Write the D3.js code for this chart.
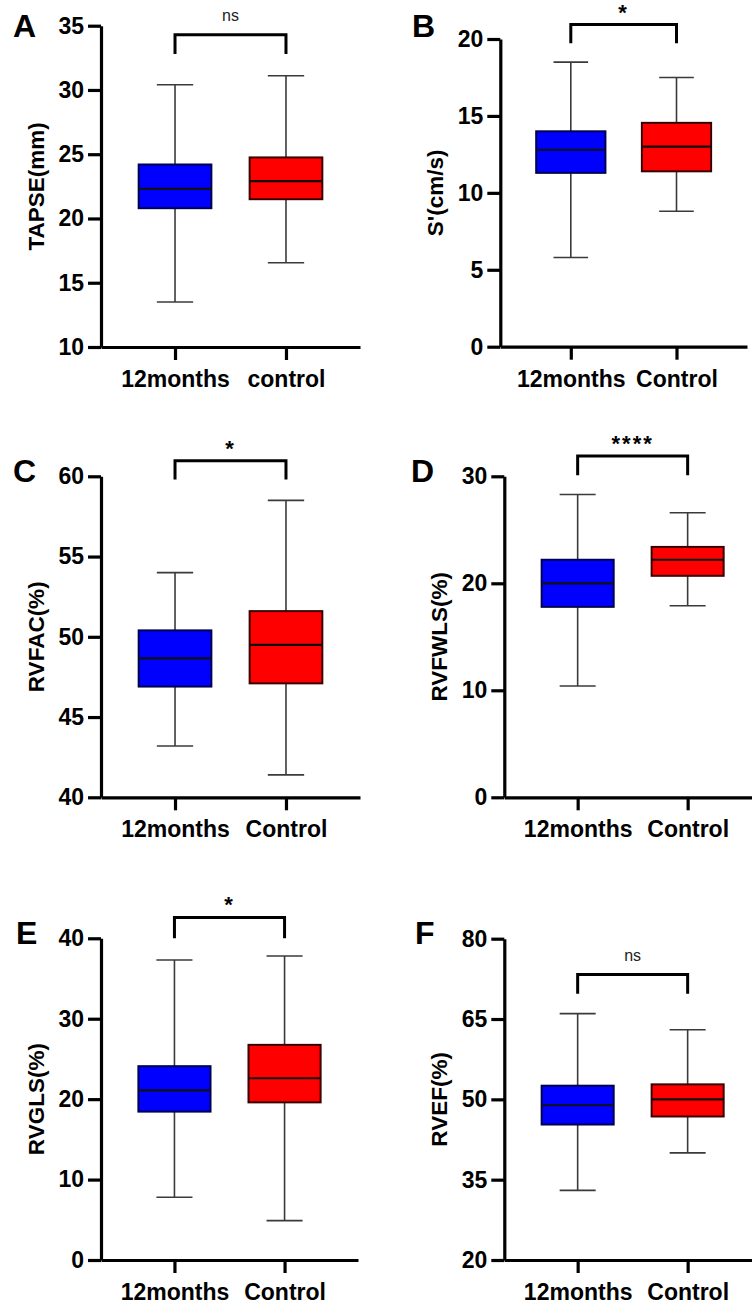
<!DOCTYPE html>
<html>
<head>
<meta charset="utf-8">
<script src="https://cdn.jsdelivr.net/npm/d3@7"></script>
<style>
  html, body { margin: 0; padding: 0; background: #fff; }
  svg { display: block; }
  text { font-family: "Liberation Sans", Arial, sans-serif; }
</style>
</head>
<body>
<svg id="chart" width="752" height="1307"></svg>
<script>
// ---------- data ----------
const panelLetters = ["A", "B", "C", "D", "E", "F"];
const yLabels = ["TAPSE(mm)", "S'(cm/s)", "RVFAC(%)", "RVFWLS(%)", "RVGLS(%)", "RVEF(%)"];
const categoryLabels = [
  ["12months", "control"],
  ["12months", "Control"],
  ["12months", "Control"],
  ["12months", "Control"],
  ["12months", "Control"],
  ["12months", "Control"]
];
const yTicks = [
  [10, 15, 20, 25, 30, 35],
  [0, 5, 10, 15, 20],
  [40, 45, 50, 55, 60],
  [0, 10, 20, 30],
  [0, 10, 20, 30, 40],
  [20, 35, 50, 65, 80]
];
// 12months group
const min12 = [13.5, 5.8, 43.2, 10.4, 7.8, 33.0];
const q1_12 = [20.8, 11.3, 46.9, 17.8, 18.45, 45.3];
const med12 = [22.3, 12.8, 48.65, 20.0, 21.1, 48.9];
const q3_12 = [24.2, 14.0, 50.4, 22.2, 24.1, 52.55];
const max12 = [30.4, 18.5, 54.0, 28.3, 37.3, 66.0];
// Control group
const minCtl = [16.55, 8.8, 41.4, 17.9, 4.9, 40.0];
const q1Ctl = [21.5, 11.4, 47.1, 20.7, 19.6, 46.8];
const medCtl = [22.9, 13.0, 49.5, 22.2, 22.6, 50.0];
const q3Ctl = [24.75, 14.55, 51.6, 23.4, 26.75, 52.8];
const maxCtl = [31.1, 17.5, 58.5, 26.6, 37.8, 63.0];
// significance brackets
const sigLabels = ["ns", "*", "*", "****", "*", "ns"];
const bracketTop = [34.3, 20.94, 60.97, 31.9, 42.6, 73.3];
const bracketLeg = [32.8, 19.73, 59.8, 30.1, 40.0, 69.7];

// ---------- layout (positions only) ----------
const layout = [
  { x0: 101,   x1: 360, yTop: 25.7,  yBot: 347,   lx: 13,  ly: 37 },
  { x0: 500.3, x1: 747, yTop: 39,    yBot: 346.7, lx: 412, ly: 37 },
  { x0: 101,   x1: 360, yTop: 476.3, yBot: 797.3, lx: 13,  ly: 482 },
  { x0: 504.3, x1: 761, yTop: 476.3, yBot: 797.3, lx: 411, ly: 482 },
  { x0: 101,   x1: 358, yTop: 938.3, yBot: 1260,  lx: 16,  ly: 944 },
  { x0: 504.3, x1: 761, yTop: 938.7, yBot: 1260,  lx: 415, ly: 944 }
];
const fills = ["#0000ff", "#ff0000"];
const strokes = ["#000050", "#3a0000"];

const svg = d3.select("#chart");

panelLetters.forEach((letter, i) => {
  const L = layout[i];
  const ticks = yTicks[i];
  const y = d3.scaleLinear().domain([ticks[0], ticks[ticks.length - 1]]).range([L.yBot, L.yTop]);
  const x = d3.scalePoint().domain(categoryLabels[i]).range([L.x0, L.x1]).padding(0.667);
  const step = x.step();
  const boxW = step * 0.655;
  const g = svg.append("g");

  const groups = [
    { cat: categoryLabels[i][0], min: min12[i], q1: q1_12[i], med: med12[i], q3: q3_12[i], max: max12[i], k: 0 },
    { cat: categoryLabels[i][1], min: minCtl[i], q1: q1Ctl[i], med: medCtl[i], q3: q3Ctl[i], max: maxCtl[i], k: 1 }
  ];

  groups.forEach(d => {
    const cx = x(d.cat);
    g.append("line").attr("x1", cx).attr("x2", cx).attr("y1", y(d.max)).attr("y2", y(d.min))
      .attr("stroke", "#3a3a3a").attr("stroke-width", 1.6);
    [d.min, d.max].forEach(v => {
      g.append("line").attr("x1", cx - boxW / 4).attr("x2", cx + boxW / 4).attr("y1", y(v)).attr("y2", y(v))
        .attr("stroke", "#3a3a3a").attr("stroke-width", 1.6);
    });
    g.append("rect").attr("x", cx - boxW / 2).attr("width", boxW)
      .attr("y", y(d.q3)).attr("height", y(d.q1) - y(d.q3))
      .attr("fill", fills[d.k]).attr("stroke", strokes[d.k]).attr("stroke-width", 2);
    g.append("line").attr("x1", cx - boxW / 2).attr("x2", cx + boxW / 2).attr("y1", y(d.med)).attr("y2", y(d.med))
      .attr("stroke", "#111").attr("stroke-width", 2.2);
  });

  // y axis
  const ya = g.append("g").attr("transform", `translate(${L.x0},0)`)
    .call(d3.axisLeft(y).tickValues(ticks).tickSize(13).tickSizeOuter(0).tickPadding(4));
  ya.select(".domain").attr("stroke", "#000").attr("stroke-width", 3.2);
  ya.selectAll(".tick line").attr("stroke", "#000").attr("stroke-width", 3.2);
  ya.selectAll(".tick text").attr("fill", "#000").style("font-size", "23px").style("font-weight", "bold")
    .style("font-family", "'Liberation Sans', Arial, sans-serif");

  // x axis
  const xa = g.append("g").attr("transform", `translate(0,${L.yBot})`)
    .call(d3.axisBottom(x).tickSize(13).tickSizeOuter(0));
  xa.select(".domain").attr("stroke", "#000").attr("stroke-width", 3.2);
  xa.selectAll(".tick line").attr("stroke", "#000").attr("stroke-width", 3.2);
  xa.selectAll(".tick text").attr("fill", "#000").attr("y", 40).attr("dy", 0)
    .style("font-size", "23px").style("font-weight", "bold")
    .style("font-family", "'Liberation Sans', Arial, sans-serif");

  // y label
  const cy = (L.yTop + L.yBot) / 2;
  g.append("text")
    .attr("transform", `translate(${L.x0 - 57},${cy}) rotate(-90)`)
    .attr("text-anchor", "middle")
    .style("font-size", "22.5px").style("font-weight", "bold")
    .text(yLabels[i]);

  // panel letter
  g.append("text").attr("x", L.lx).attr("y", L.ly)
    .style("font-size", "32px").style("font-weight", "bold")
    .text(letter);

  // significance bracket
  const xl = x(categoryLabels[i][0]), xr = x(categoryLabels[i][1]);
  const bt = y(bracketTop[i]), bl = y(bracketLeg[i]);
  g.append("path")
    .attr("d", `M${xl},${bl}V${bt}H${xr}V${bl}`)
    .attr("fill", "none").attr("stroke", "#000").attr("stroke-width", 3);
  const isNs = sigLabels[i] === "ns";
  g.append("text")
    .attr("x", (xl + xr) / 2)
    .attr("y", isNs ? bt - 13.5 : bt - 5)
    .attr("text-anchor", "middle")
    .attr("fill", isNs ? "#222" : "#000")
    .style("font-size", isNs ? "16px" : "22px")
    .style("font-weight", isNs ? "normal" : "bold")
    .style("letter-spacing", isNs ? "0px" : "2px")
    .text(sigLabels[i]);
});
</script>
</body>
</html>
